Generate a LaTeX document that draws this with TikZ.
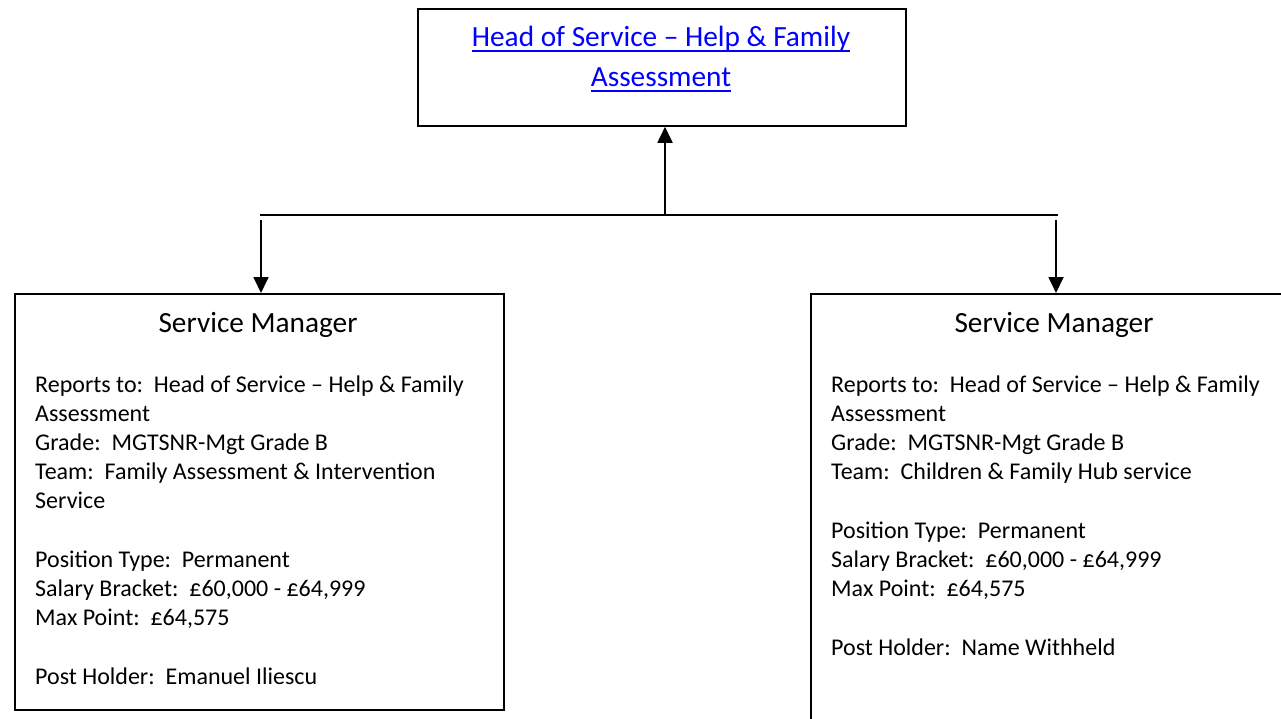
\documentclass[tikz,border=0pt]{standalone}
\usepackage{fontspec}
\setmainfont{Carlito}
\usetikzlibrary{arrows.meta}
\definecolor{linkblue}{RGB}{0,0,255}
\newcommand\lnkul[1]{\setbox0\hbox{#1}\rlap{\rule[-5pt]{\wd0}{1.8pt}}\box0}
\begin{document}
\begin{tikzpicture}[x=1pt,y=-1pt,
  box/.style={draw, line width=1.8pt, anchor=north west, inner sep=0pt},
  conn/.style={line width=2pt},
  arr/.style={line width=1.8pt, -{Triangle[length=16pt,width=15pt]}},
  headtxt/.style={align=center, inner sep=0pt, font=\fontsize{29.3}{40}\selectfont, text=linkblue},
  titletxt/.style={inner sep=0pt, anchor=base, font=\fontsize{29.3}{35}\selectfont},
  bodytxt/.style={align=left, inner sep=0pt, anchor=base west, font=\fontsize{24}{29.2}\selectfont}]
\useasboundingbox (0,0) rectangle (1281,719);
\clip (0,0) rectangle (1281,719);
% boxes
\node[box, minimum width=488pt, minimum height=117pt] (head) at (417,8) {};
\node[box, minimum width=489pt, minimum height=416pt] (sm1) at (14,293) {};
\node[box, minimum width=520pt, minimum height=460pt] (sm2) at (810,293) {};
% texts
\node[headtxt, anchor=base] (headt) at (661,87) {\lnkul{Head of Service – Help \& Family}\\\lnkul{Assessment}};
\node[titletxt] (sm1t) at (258,332) {Service Manager};
\node[titletxt] (sm2t) at (1054,332) {Service Manager};
\node[bodytxt] (sm1b) at (35,684) {Reports to:\ \ Head of Service – Help \& Family\\
Assessment\\
Grade:\ \ MGTSNR-Mgt Grade B\\
Team:\ \ Family Assessment \& Intervention\\
Service\\[29.2pt]
Position Type:\ \ Permanent\\
Salary Bracket:\ \ £60,000 - £64,999\\
Max Point:\ \ £64,575\\[29.2pt]
Post Holder:\ \ Emanuel Iliescu};
\node[bodytxt] (sm2b) at (831,655) {Reports to:\ \ Head of Service – Help \& Family\\
Assessment\\
Grade:\ \ MGTSNR-Mgt Grade B\\
Team:\ \ Children \& Family Hub service\\[29.2pt]
Position Type:\ \ Permanent\\
Salary Bracket:\ \ £60,000 - £64,999\\
Max Point:\ \ £64,575\\[29.2pt]
Post Holder:\ \ Name Withheld};
% connectors
\coordinate (jc) at (665,215);
\coordinate (jl) at (260,215);
\coordinate (jr) at (1058,215);
\coordinate (al) at (261,220);
\coordinate (ar) at (1056,220);
\draw[conn] (jl) -- (jr);
\draw[arr] (jc) -- (jc |- head.south);
\draw[arr] (al) -- (al |- sm1.north);
\draw[arr] (ar) -- (ar |- sm2.north);
\end{tikzpicture}
\end{document}
